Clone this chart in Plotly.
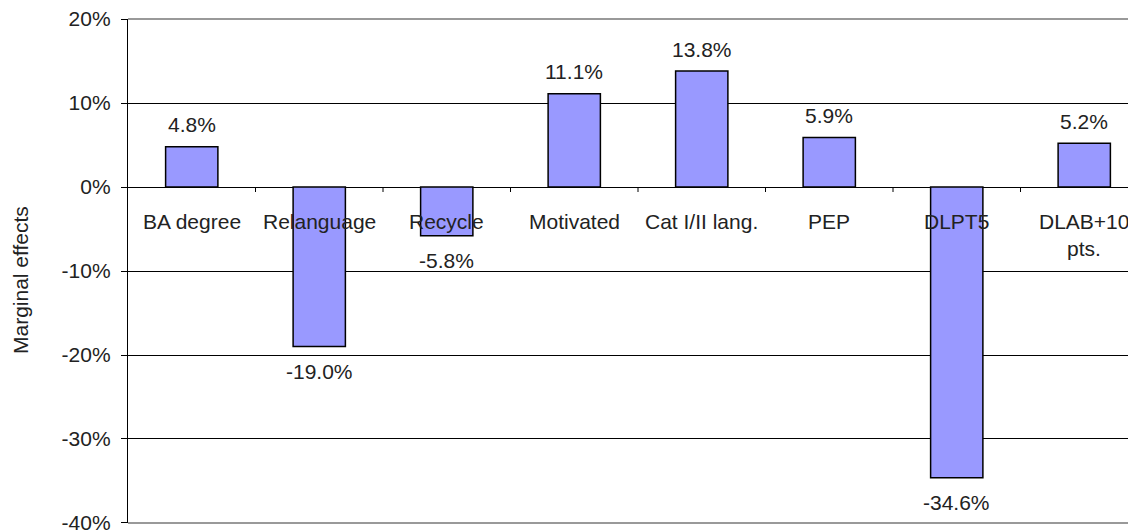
import plotly.graph_objects as go

categories = ["BA degree", "Relanguage", "Recycle", "Motivated", "Cat I/II lang.", "PEP", "DLPT5", "DLAB+10<br>pts."]
values = [0.048, -0.190, -0.058, 0.111, 0.138, 0.059, -0.346, 0.052]
y_ticks = [-0.4, -0.3, -0.2, -0.1, 0.0, 0.1, 0.2]
y_tick_labels = ["-40%", "-30%", "-20%", "-10%", "0%", "10%", "20%"]
y_title = "Marginal effects"

FONT = "Liberation Sans, Arial, sans-serif"
TXT = "#222222"
FS = 21

x_pos = list(range(len(categories)))

fig = go.Figure()
fig.add_trace(go.Bar(
    x=x_pos, y=values,
    marker=dict(color="#9999FF", line=dict(color="#000000", width=1.5)),
    hoverinfo="skip",
))

annotations = []
# value labels
for i, v in enumerate(values):
    annotations.append(dict(
        x=i, y=v, xref="x", yref="y",
        text=f"{v*100:.1f}%",
        showarrow=False, yanchor="middle", xanchor="center",
        yshift=22 if v >= 0 else -25,
        font=dict(family=FONT, size=FS, color=TXT),
    ))
# category labels at the zero line
for i, lab in enumerate(categories):
    for j, line in enumerate(lab.split("<br>")):
        annotations.append(dict(
            x=i, y=0, xref="x", yref="y",
            text=line, showarrow=False, yanchor="middle", xanchor="center",
            yshift=-34 - 27 * j,
            font=dict(family=FONT, size=FS, color=TXT),
        ))
# y-axis title
annotations.append(dict(
    x=0, y=0.5, xref="paper", yref="paper", xshift=-108, yshift=-9,
    text=y_title, textangle=-90, showarrow=False,
    xanchor="center", yanchor="middle",
    font=dict(family=FONT, size=FS, color=TXT),
))

shapes = []
# category separator ticks on the zero line
for i in range(len(categories) - 1):
    shapes.append(dict(
        type="line", xref="x", yref="y", x0=i + 0.5, x1=i + 0.5,
        ysizemode="pixel", yanchor=0, y0=0, y1=-5,
        line=dict(color="#000000", width=1),
    ))
# gray top & bottom border
for yb in (1, 0):
    shapes.append(dict(
        type="line", xref="paper", yref="paper", x0=0, x1=1, y0=yb, y1=yb,
        line=dict(color="#999999", width=2), layer="above",
    ))

# the page body adds an 8px offset; compensate in the margins
W, H = 1136, 532
ml, mr, mt, mb = 120, 0, 11, 17
cat_px = 127.5
plot_w = W - ml - mr
x_end = -0.5 + plot_w / cat_px
eps = 1e-5

fig.update_layout(
    width=W, height=H,
    margin=dict(l=ml, r=mr, t=mt, b=mb, pad=0, autoexpand=False),
    paper_bgcolor="white", plot_bgcolor="white",
    showlegend=False, bargap=0.59,
    font=dict(family=FONT, size=FS, color=TXT),
    xaxis=dict(range=[-0.5, x_end], showticklabels=False, showgrid=False,
               zeroline=False, showline=False, ticks="", automargin=False),
    yaxis=dict(range=[y_ticks[0] - eps, y_ticks[-1] + eps], tickvals=y_ticks,
               ticktext=y_tick_labels, automargin=False, ticklabeloverflow="allow",
               showgrid=True, gridcolor="#000000", gridwidth=1,
               zeroline=True, zerolinecolor="#000000", zerolinewidth=1,
               showline=True, linecolor="#000000", linewidth=1.3,
               ticks="outside", ticklen=6, tickcolor="#000000", tickwidth=1,
               ticklabelstandoff=6,
               tickfont=dict(family=FONT, size=FS, color=TXT)),
    annotations=annotations,
    shapes=shapes,
)

fig.write_html("out.html")
